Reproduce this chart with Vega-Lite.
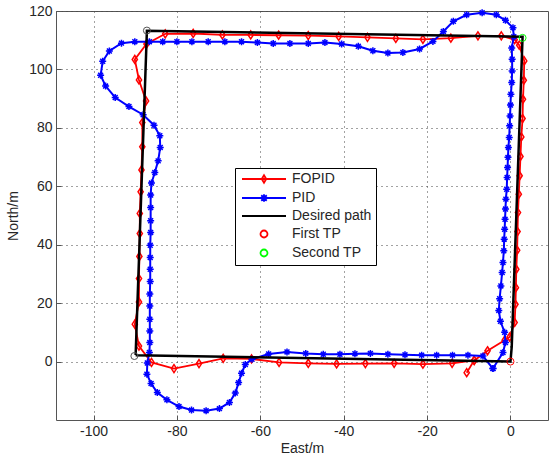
{
  "$schema": "https://vega.github.io/schema/vega-lite/v6.json",
  "width": 492,
  "height": 409,
  "autosize": "none",
  "padding": {"left": 56, "top": 11, "right": 1, "bottom": 38},
  "background": "white",
  "config": {
    "view": {"stroke": "#555", "strokeWidth": 1},
    "axis": {
      "labelFont": "Liberation Sans", "labelFontSize": 14, "labelColor": "#262626",
      "titleFont": "Liberation Sans", "titleFontSize": 14, "titleFontWeight": "normal", "titleColor": "#262626",
      "domain": false, "tickColor": "#555", "tickSize": -5, "labelPadding": 9,
      "gridColor": "#444", "gridDash": [1, 4], "gridOpacity": 1, "gridWidth": 1,
      "labelExpr": "datum.value < 0 ? '-' + abs(datum.value) : '' + datum.value"
    }
  },
  "datasets": {
    "fopid": [
      {"x": -10.5, "y": -3.8}, {"x": -8.7, "y": 0.4}, {"x": -5.5, "y": 3.7}, {"x": -1.4, "y": 7.3}, {"x": -0.2, "y": 8.4},
      {"x": 1.0, "y": 13.4}, {"x": 1.2, "y": 19.6}, {"x": 1.3, "y": 25.3}, {"x": 1.4, "y": 31.6}, {"x": 1.6, "y": 38.1},
      {"x": 1.7, "y": 44.5}, {"x": 1.8, "y": 51.0}, {"x": 2.0, "y": 57.3}, {"x": 2.2, "y": 63.6}, {"x": 2.4, "y": 70.2},
      {"x": 2.6, "y": 76.9}, {"x": 2.9, "y": 83.2}, {"x": 3.0, "y": 89.8}, {"x": 3.2, "y": 96.3}, {"x": 3.3, "y": 102.9},
      {"x": 2.1, "y": 108.3}, {"x": 1.0, "y": 110.2}, {"x": -2.2, "y": 111.5}, {"x": -7.8, "y": 111.5}, {"x": -14.3, "y": 110.7},
      {"x": -21.0, "y": 110.3}, {"x": -27.5, "y": 110.6}, {"x": -34.3, "y": 111.0}, {"x": -41.2, "y": 111.3}, {"x": -48.5, "y": 111.6},
      {"x": -55.6, "y": 111.7}, {"x": -62.3, "y": 111.8}, {"x": -69.1, "y": 111.8}, {"x": -76.1, "y": 112.3}, {"x": -82.8, "y": 112.2},
      {"x": -87.3, "y": 108.7}, {"x": -90.1, "y": 103.4}, {"x": -89.1, "y": 96.4}, {"x": -87.4, "y": 89.2}, {"x": -88.3, "y": 81.8},
      {"x": -88.3, "y": 73.5}, {"x": -88.5, "y": 65.6}, {"x": -88.7, "y": 58.1}, {"x": -88.9, "y": 50.7}, {"x": -88.9, "y": 43.8},
      {"x": -89.0, "y": 36.0}, {"x": -89.1, "y": 28.4}, {"x": -89.1, "y": 20.4}, {"x": -90.1, "y": 12.8}, {"x": -89.1, "y": 5.3},
      {"x": -86.1, "y": -0.3}, {"x": -80.7, "y": -2.4}, {"x": -74.7, "y": -0.7}, {"x": -68.9, "y": 1.1}, {"x": -62.1, "y": 0.9},
      {"x": -55.5, "y": -0.3}, {"x": -48.5, "y": -0.6}, {"x": -41.7, "y": -0.8}, {"x": -34.8, "y": -0.7}, {"x": -27.9, "y": -0.6},
      {"x": -21.0, "y": -0.9}, {"x": -14.0, "y": -0.6}, {"x": -8.7, "y": 0.4}
    ],
    "pid": [
      {"x": -4.2, "y": -2.4}, {"x": -1.8, "y": 3.1}, {"x": -1.2, "y": 6.5}, {"x": -1.4, "y": 10.0}, {"x": -2.4, "y": 13.8},
      {"x": -2.8, "y": 17.5}, {"x": -2.6, "y": 21.5}, {"x": -2.3, "y": 25.9}, {"x": -2.0, "y": 30.5}, {"x": -1.8, "y": 33.9},
      {"x": -1.6, "y": 37.9}, {"x": -1.5, "y": 41.9}, {"x": -1.4, "y": 45.3}, {"x": -1.3, "y": 48.7}, {"x": -1.2, "y": 52.2},
      {"x": -1.1, "y": 55.6}, {"x": -0.9, "y": 59.0}, {"x": -0.8, "y": 63.0}, {"x": -0.7, "y": 66.4}, {"x": -0.6, "y": 69.9},
      {"x": -0.5, "y": 73.3}, {"x": -0.3, "y": 76.7}, {"x": -0.2, "y": 80.7}, {"x": -0.1, "y": 84.1}, {"x": 0.0, "y": 87.8},
      {"x": 0.1, "y": 91.5}, {"x": 0.3, "y": 95.5}, {"x": 0.4, "y": 99.5}, {"x": 0.4, "y": 103.5}, {"x": 0.3, "y": 107.3},
      {"x": 0.8, "y": 111.2}, {"x": 0.6, "y": 114.3}, {"x": -1.2, "y": 116.8}, {"x": -3.4, "y": 118.7}, {"x": -6.8, "y": 119.4},
      {"x": -10.5, "y": 118.7}, {"x": -13.7, "y": 116.5}, {"x": -16.1, "y": 113.0}, {"x": -18.6, "y": 109.6}, {"x": -21.8, "y": 107.0},
      {"x": -25.8, "y": 105.8}, {"x": -29.4, "y": 105.6}, {"x": -33.0, "y": 106.4}, {"x": -36.5, "y": 107.9}, {"x": -40.5, "y": 108.7},
      {"x": -44.5, "y": 109.2}, {"x": -48.5, "y": 108.9}, {"x": -52.9, "y": 108.9}, {"x": -56.9, "y": 108.9}, {"x": -60.7, "y": 109.2},
      {"x": -64.5, "y": 109.5}, {"x": -68.5, "y": 109.5}, {"x": -72.5, "y": 109.5}, {"x": -76.4, "y": 109.5}, {"x": -80.0, "y": 109.5},
      {"x": -83.4, "y": 109.5}, {"x": -86.6, "y": 109.5}, {"x": -90.1, "y": 109.5}, {"x": -93.3, "y": 109.0}, {"x": -96.2, "y": 106.3},
      {"x": -97.8, "y": 102.8}, {"x": -98.3, "y": 98.0}, {"x": -97.1, "y": 94.3}, {"x": -94.8, "y": 90.4}, {"x": -91.5, "y": 87.3},
      {"x": -88.1, "y": 84.5}, {"x": -85.5, "y": 80.9}, {"x": -84.1, "y": 77.3}, {"x": -84.0, "y": 73.3}, {"x": -84.5, "y": 68.7},
      {"x": -85.3, "y": 64.7}, {"x": -86.1, "y": 61.1}, {"x": -86.3, "y": 57.0}, {"x": -86.3, "y": 52.7}, {"x": -86.3, "y": 48.2},
      {"x": -86.3, "y": 44.2}, {"x": -86.4, "y": 39.8}, {"x": -86.4, "y": 35.6}, {"x": -86.4, "y": 31.6}, {"x": -86.4, "y": 27.4},
      {"x": -86.5, "y": 23.1}, {"x": -86.5, "y": 19.0}, {"x": -86.5, "y": 14.5}, {"x": -86.5, "y": 10.5}, {"x": -86.5, "y": 6.5},
      {"x": -86.6, "y": 3.1}, {"x": -87.1, "y": -0.5}, {"x": -87.2, "y": -4.3}, {"x": -86.2, "y": -7.5}, {"x": -84.7, "y": -10.6},
      {"x": -82.4, "y": -13.1}, {"x": -79.5, "y": -15.4}, {"x": -76.5, "y": -16.6}, {"x": -73.0, "y": -16.8}, {"x": -69.8, "y": -16.1},
      {"x": -67.4, "y": -14.0}, {"x": -66.0, "y": -10.8}, {"x": -65.2, "y": -7.2}, {"x": -64.5, "y": -4.0}, {"x": -63.6, "y": -1.0},
      {"x": -62.0, "y": 0.8}, {"x": -58.0, "y": 2.6}, {"x": -53.6, "y": 3.3}, {"x": -49.1, "y": 2.8}, {"x": -44.9, "y": 2.5},
      {"x": -40.9, "y": 2.5}, {"x": -37.3, "y": 2.7}, {"x": -33.6, "y": 2.8}, {"x": -29.4, "y": 2.5}, {"x": -25.3, "y": 2.3},
      {"x": -21.3, "y": 2.2}, {"x": -17.7, "y": 2.2}, {"x": -13.9, "y": 2.2}, {"x": -10.2, "y": 2.2}, {"x": -6.6, "y": 1.9},
      {"x": -4.2, "y": -2.4}
    ],
    "desired": [
      {"x": -89.9, "y": 2.2}, {"x": 0.0, "y": 0.0}, {"x": 0.3, "y": 5.0}, {"x": 2.9, "y": 111.2}, {"x": -87.2, "y": 113.2}, {"x": -89.9, "y": 2.2}
    ],
    "corners": [
      {"x": -87.2, "y": 113.3}, {"x": -90.2, "y": 1.9}
    ],
    "tp1": [{"x": 0.0, "y": 0.0}],
    "tp2": [{"x": 2.9, "y": 110.8}],
    "leg": [
      {"s": "FOPID"}, {"s": "PID"}, {"s": "Desired path"}, {"s": "First TP"}, {"s": "Second TP"}
    ]
  },
  "encoding": {
    "x": {"field": "x", "type": "quantitative", "scale": {"domain": [-109, 9], "nice": false, "zero": false},
      "axis": {"values": [-100, -80, -60, -40, -20, 0], "title": "East/m", "grid": true, "titlePadding": 3}},
    "y": {"field": "y", "type": "quantitative", "scale": {"domain": [-20, 120], "nice": false, "zero": false},
      "axis": {"values": [0, 20, 40, 60, 80, 100, 120], "title": "North/m", "grid": true, "titlePadding": 8}}
  },
  "layer": [
    {
      "data": {"name": "fopid"},
      "mark": {"type": "line", "color": "#ff0000", "strokeWidth": 1.8},
      "encoding": {"order": {"value": null}}
    },
    {
      "data": {"name": "fopid"},
      "mark": {"type": "point", "filled": false, "color": "#ff0000", "strokeWidth": 1.5, "opacity": 1,
        "shape": "M0,-1L0.65,0L0,1L-0.65,0Z", "size": 64}
    },
    {
      "data": {"name": "pid"},
      "mark": {"type": "line", "color": "#0000ff", "strokeWidth": 2},
      "encoding": {"order": {"value": null}}
    },
    {
      "data": {"name": "pid"},
      "mark": {"type": "point", "filled": false, "color": "#0000ff", "strokeWidth": 1.5, "opacity": 1,
        "shape": "M0,-1V1M-1,0H1M-0.7,-0.7L0.7,0.7M-0.7,0.7L0.7,-0.7", "size": 49}
    },
    {
      "data": {"name": "desired"},
      "mark": {"type": "line", "color": "#000000", "strokeWidth": 2.5},
      "encoding": {"order": {"value": null}}
    },
    {
      "data": {"name": "corners"},
      "mark": {"type": "point", "filled": false, "color": "#555555", "strokeWidth": 1, "opacity": 1, "shape": "circle", "size": 49}
    },
    {
      "data": {"name": "tp1"},
      "mark": {"type": "point", "filled": false, "color": "#ff0000", "strokeWidth": 1, "opacity": 1, "shape": "circle", "size": 49}
    },
    {
      "data": {"name": "tp2"},
      "mark": {"type": "point", "filled": false, "color": "#00ff00", "strokeWidth": 1, "opacity": 1, "shape": "circle", "size": 49}
    },
    {
      "data": {"name": "leg"},
      "mark": {"type": "point", "filled": false, "opacity": 0, "strokeWidth": 1.5},
      "encoding": {
        "x": {"value": 0},
        "y": {"value": 0},
        "color": {"field": "s", "type": "nominal", "scale": {"domain": ["FOPID", "PID", "Desired path", "First TP", "Second TP"], "range": ["#ff0000", "#0000ff", "#000000", "#ff0000", "#00ff00"]},
          "legend": {"orient": "none", "legendX": 179, "legendY": 157, "title": null, "strokeColor": "black", "fillColor": "white",
            "padding": 4, "labelFont": "Liberation Sans", "labelFontSize": 14, "labelColor": "#262626", "symbolSize": 100,
            "symbolOffset": 18, "labelOffset": 21, "symbolOpacity": 1, "symbolStrokeWidth": 1.8, "rowPadding": 3,
            "symbolFillColor": "transparent",
            "encode": {"symbols": {"update": {"opacity": {"value": 1},
              "strokeWidth": {"signal": "indexof(['First TP', 'Second TP'], datum.value) >= 0 ? 1 : 1.8"}}}}}},
        "shape": {"field": "s", "type": "nominal", "scale": {"domain": ["FOPID", "PID", "Desired path", "First TP", "Second TP"],
          "range": ["M-4.4,0H4.4M0,-0.75L0.45,0L0,0.75L-0.45,0Z", "M-4.4,0H4.4M0,-0.75V0.75M-0.75,0H0.75M-0.55,-0.55L0.55,0.55M-0.55,0.55L0.55,-0.55", "M-4.4,0H4.4", "M0.7,0A0.7,0.7 0 1,1 -0.7,0A0.7,0.7 0 1,1 0.7,0Z", "M0.7,0A0.7,0.7 0 1,1 -0.7,0A0.7,0.7 0 1,1 0.7,0Z"]}}
      }
    }
  ]
}
